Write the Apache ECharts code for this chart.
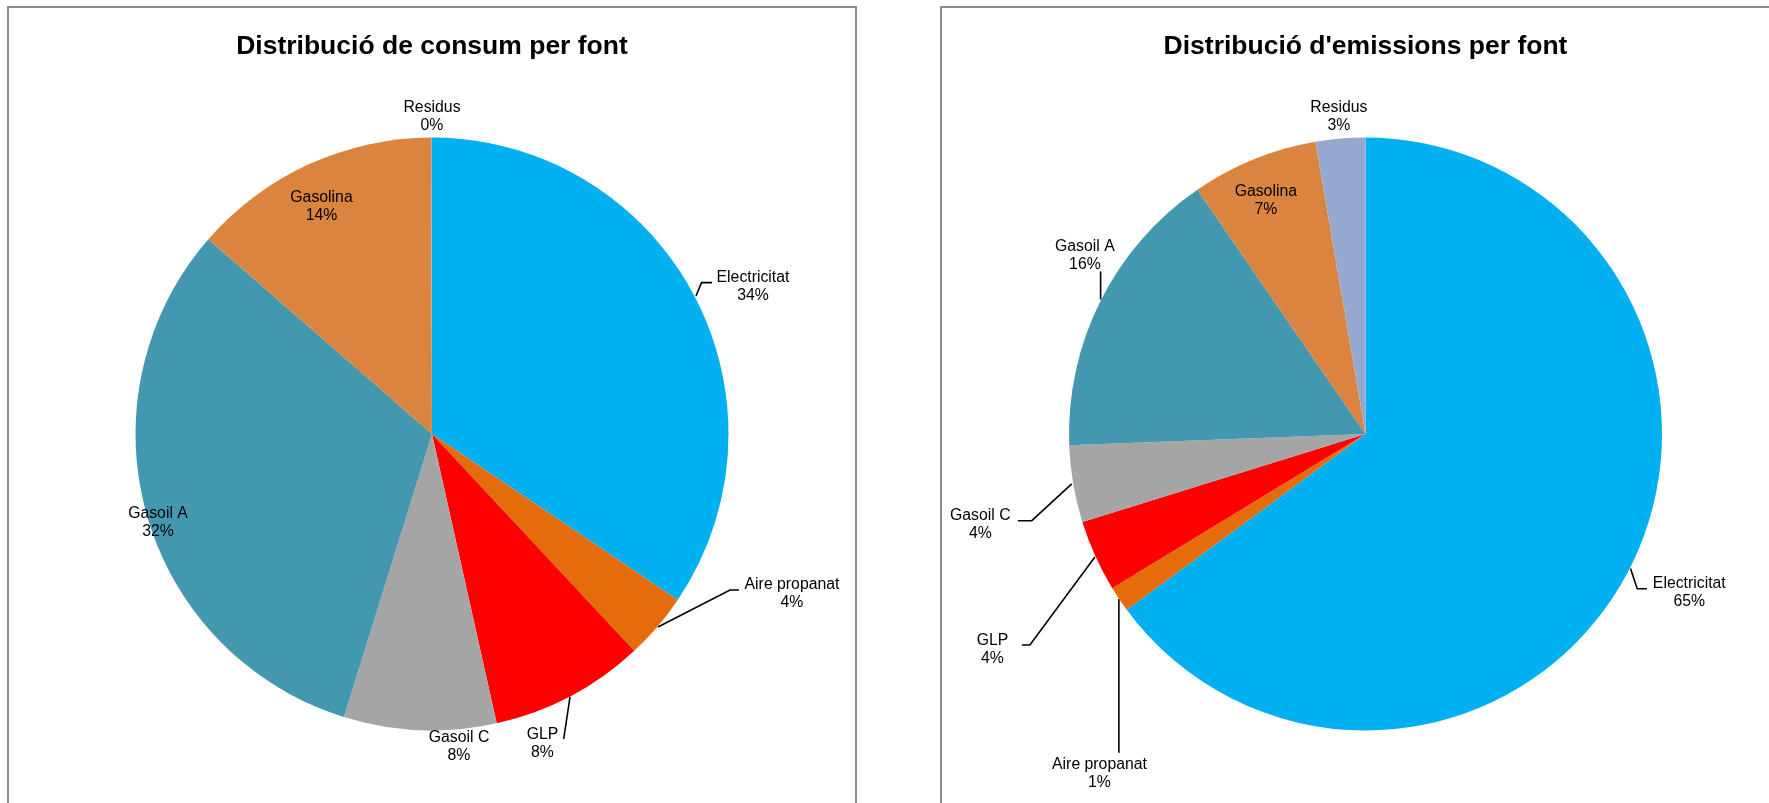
<!DOCTYPE html>
<html>
<head>
<meta charset="utf-8">
<script src="https://cdn.jsdelivr.net/npm/echarts@6/dist/echarts.min.js"></script>
<style>
  html, body { margin: 0; padding: 0; background: #ffffff; }
  #chart { width: 1769px; height: 803px; }
</style>
</head>
<body>
<div id="chart"></div>
<script>
// ---- Data ----
const categories = ['Electricitat', 'Aire propanat', 'GLP', 'Gasoil C', 'Gasoil A', 'Gasolina', 'Residus'];
const consumValues = [34.45, 3.6, 8.45, 8.3, 31.6, 13.55, 0.05];
const emissionsValues = [64.9, 1.4, 3.9, 4.2, 16.0, 6.9, 2.7];
const titles = ['Distribució de consum per font', "Distribució d'emissions per font"];
const sliceColors = ['#00B0F0', '#E46C0A', '#FF0000', '#A5A5A5', '#4398B0', '#DA843F', '#95A9D0'];

// ---- Layout / style (not data) ----
const pieCenters = [[432, 434], [1365.5, 434]];
const pieRadius = 296.5;
const FONT = '"Liberation Sans", Arial, Helvetica, sans-serif';

// Label placement relative to pie centre (text-block centre, optional leader line)
const labelPlacement = [
  {
    'Electricitat':  { t: [321, -147.5], line: [[264, -138], [269.5, -151.4], [280, -151.4]] },
    'Aire propanat': { t: [360, 159.7], line: [[226, 193], [298, 156], [307, 156]] },
    'GLP':           { t: [110.5, 310], line: [[138, 263], [131.7, 305], [131.7, 305]] },
    'Gasoil C':      { t: [27, 312.5] },
    'Gasoil A':      { t: [-274, 88.5] },
    'Gasolina':      { t: [-110.5, -227.7] },
    'Residus':       { t: [0, -317.5] }
  },
  {
    'Electricitat':  { t: [323.8, 158.6], line: [[265, 134.4], [271.7, 154.8], [281.4, 154.8]] },
    'Aire propanat': { t: [-266, 339.2], line: [[-246.6, 165], [-246.6, 318.7], [-246.6, 318.7]] },
    'GLP':           { t: [-373, 215.8], line: [[-270.6, 123], [-335.6, 211], [-343.6, 211]] },
    'Gasoil C':      { t: [-385.2, 91], line: [[-293.8, 49.9], [-333.7, 86.7], [-347.6, 86.7]] },
    'Gasoil A':      { t: [-280.6, -178.5], line: [[-264.9, -134.5], [-264.9, -162.6], [-264.9, -162.6]] },
    'Gasolina':      { t: [-99.7, -233.5] },
    'Residus':       { t: [-26.6, -317.5] }
  }
];

function buildData(values, si) {
  return categories.map(function (name, i) {
    const spec = labelPlacement[si][name];
    return {
      name: name,
      value: values[i],
      itemStyle: { color: sliceColors[i] },
      labelLine: { show: !!spec.line }
    };
  });
}

function makeSeries(values, si) {
  return {
    type: 'pie',
    center: pieCenters[si],
    radius: [0, pieRadius],
    startAngle: 90,
    clockwise: true,
    avoidLabelOverlap: false,
    animation: false,
    silent: true,
    itemStyle: { borderWidth: 0 },
    label: {
      show: true,
      position: 'outside',
      color: '#000000',
      fontFamily: FONT,
      fontSize: 15.8,
      lineHeight: 18,
      align: 'center',
      formatter: function (p) { return p.name + '\n' + Math.round(p.percent) + '%'; }
    },
    labelLine: {
      show: true,
      smooth: false,
      lineStyle: { color: '#000000', width: 1.6 }
    },
    labelLayout: function (params) {
      const c = pieCenters[si];
      const spec = labelPlacement[si][categories[params.dataIndex]];
      const out = {
        x: c[0] + spec.t[0],
        y: c[1] + spec.t[1],
        align: 'center',
        verticalAlign: 'middle'
      };
      if (spec.line) {
        out.labelLinePoints = spec.line.map(function (p) { return [c[0] + p[0], c[1] + p[1]]; });
      }
      return out;
    },
    data: buildData(values, si)
  };
}

const chart = echarts.init(document.getElementById('chart'), null, { renderer: 'canvas' });
chart.setOption({
  backgroundColor: '#ffffff',
  animation: false,
  graphic: [
    { type: 'rect', shape: { x: 8, y: 7, width: 848, height: 900 },
      style: { fill: 'none', stroke: '#8c8c8c', lineWidth: 2 } },
    { type: 'rect', shape: { x: 941, y: 7, width: 900, height: 900 },
      style: { fill: 'none', stroke: '#8c8c8c', lineWidth: 2 } },
    { type: 'text', x: pieCenters[0][0], y: 47,
      style: { text: titles[0], fill: '#000000', font: 'bold 26.5px ' + FONT,
               align: 'center', verticalAlign: 'middle', textAlign: 'center', textVerticalAlign: 'middle' } },
    { type: 'text', x: pieCenters[1][0], y: 47,
      style: { text: titles[1], fill: '#000000', font: 'bold 26.5px ' + FONT,
               align: 'center', verticalAlign: 'middle', textAlign: 'center', textVerticalAlign: 'middle' } }
  ],
  series: [makeSeries(consumValues, 0), makeSeries(emissionsValues, 1)]
});
</script>
</body>
</html>
